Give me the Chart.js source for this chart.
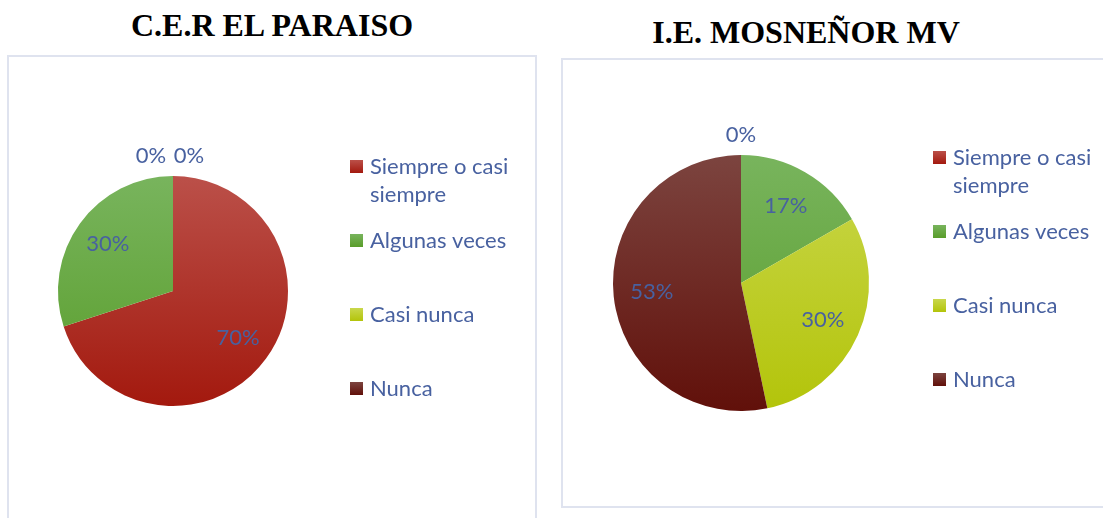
<!DOCTYPE html>
<html>
<head>
<meta charset="utf-8">
<script src="https://cdn.jsdelivr.net/npm/chart.js@4/dist/chart.umd.min.js"></script>
<style>
  html, body { margin: 0; padding: 0; background: #fff; }
  body { width: 1103px; height: 518px; position: relative; overflow: hidden; }
  .title { position: absolute; font-family: "Liberation Serif", "Times New Roman", serif; font-weight: bold;
           font-size: 32px; color: #000; white-space: nowrap; transform: translate(-50%, -50%); }
  .box { position: absolute; box-sizing: border-box; border: 2px solid #dfe3ef; }
  canvas { position: absolute; }
</style>
</head>
<body>
<div class="box" style="left:7px; top:55px; width:530px; height:490px;"></div>
<div class="box" style="left:561px; top:58px; width:600px; height:450px;"></div>
<div class="title" id="t1" style="left:272px; top:25px;"></div>
<div class="title" id="t2" style="left:806px; top:32px;"></div>
<canvas id="c1" width="527" height="462" style="left:8px; top:56px;"></canvas>
<canvas id="c2" width="541" height="447" style="left:562px; top:59px;"></canvas>
<script>
// data
var categories = ['Siempre o casi siempre', 'Algunas veces', 'Casi nunca', 'Nunca'];
var titleParaiso = 'C.E.R EL PARAISO';
var valuesParaiso = [70, 30, 0, 0];
var titleMosnenor = 'I.E. MOSNEÑOR MV';
var valuesMosnenor = [0, 16.7, 30, 53.3];
// top / bottom of the vertical gradient of each slice
var colorsTop = ['#bb5049', '#78b45d', '#c9d74c', '#7c443f'];
var colorsBottom = ['#a3190e', '#599d2a', '#b3c40a', '#61100a'];

var textColor = '#4861a0';
var labelFont = '22px Lato, "Open Sans", sans-serif';

document.getElementById('t1').textContent = titleParaiso;
document.getElementById('t2').textContent = titleMosnenor;

function sliceColor(ctx) {
  var chart = ctx.chart, area = chart.chartArea;
  var i = ctx.dataIndex;
  if (!area) return colorsBottom[i];
  var g = chart.ctx.createLinearGradient(0, area.top, 0, area.bottom);
  g.addColorStop(0, colorsTop[i]);
  g.addColorStop(1, colorsBottom[i]);
  return g;
}

function wrap(ctx, text, maxW) {
  var words = text.split(' '), lines = [], cur = '';
  words.forEach(function(w) {
    var t = cur ? cur + ' ' + w : w;
    if (cur && ctx.measureText(t).width > maxW) { lines.push(cur); cur = w; }
    else cur = t;
  });
  lines.push(cur);
  return lines;
}

// percentage labels, zero slices are put above the pie
var pctLabels = {
  id: 'pctLabels',
  afterDatasetsDraw: function(chart) {
    var ctx = chart.ctx;
    var data = chart.data.datasets[0].data;
    var total = data.reduce(function(a, b) { return a + b; }, 0);
    var arcs = chart.getDatasetMeta(0).data;
    var zeros = [];
    ctx.save();
    ctx.font = labelFont;
    ctx.fillStyle = textColor;
    ctx.textAlign = 'center';
    ctx.textBaseline = 'middle';
    arcs.forEach(function(arc, i) {
      var p = arc.getProps(['x', 'y', 'startAngle', 'endAngle', 'outerRadius'], true);
      var txt = Math.round(data[i] / total * 100) + '%';
      if (data[i] === 0) { zeros.push({ p: p, txt: txt }); return; }
      var mid = (p.startAngle + p.endAngle) / 2;
      ctx.fillText(txt, p.x + Math.cos(mid) * p.outerRadius * 0.7, p.y + Math.sin(mid) * p.outerRadius * 0.7);
    });
    var n = zeros.length;
    zeros.forEach(function(z, k) {
      var x = z.p.x - 3 * (n - 1) + (k - (n - 1) / 2) * 38;
      ctx.fillText(z.txt, x, z.p.y - z.p.outerRadius - 20);
    });
    ctx.restore();
  }
};

// legend on the right, fixed spacing between entries
var sideLegend = {
  id: 'sideLegend',
  afterDraw: function(chart, args, opts) {
    var ctx = chart.ctx;
    ctx.save();
    ctx.font = labelFont;
    ctx.textBaseline = 'middle';
    categories.forEach(function(c, i) {
      var y = opts.y + i * 74;
      var g = ctx.createLinearGradient(0, y - 6.5, 0, y + 6.5);
      g.addColorStop(0, colorsTop[i]);
      g.addColorStop(1, colorsBottom[i]);
      ctx.fillStyle = g;
      ctx.fillRect(opts.x, y - 6.5, 13, 13);
      ctx.fillStyle = textColor;
      wrap(ctx, c, 155).forEach(function(line, j) {
        ctx.fillText(line, opts.x + 20, y + j * 28.5);
      });
    });
    ctx.restore();
  }
};

function makePie(id, values, padding, legendPos) {
  return new Chart(document.getElementById(id), {
    type: 'pie',
    data: {
      labels: categories,
      datasets: [{ data: values, backgroundColor: sliceColor, borderWidth: 0 }]
    },
    options: {
      responsive: false,
      animation: false,
      layout: { padding: padding },
      plugins: {
        legend: { display: false },
        tooltip: { enabled: false },
        sideLegend: legendPos
      }
    },
    plugins: [pctLabels, sideLegend]
  });
}

makePie('c1', valuesParaiso, { left: 50, top: 120, right: 247, bottom: 112 }, { x: 342, y: 110.5 });
makePie('c2', valuesMosnenor, { left: 51, top: 96, right: 234, bottom: 95 }, { x: 371, y: 98.5 });
</script>
</body>
</html>
